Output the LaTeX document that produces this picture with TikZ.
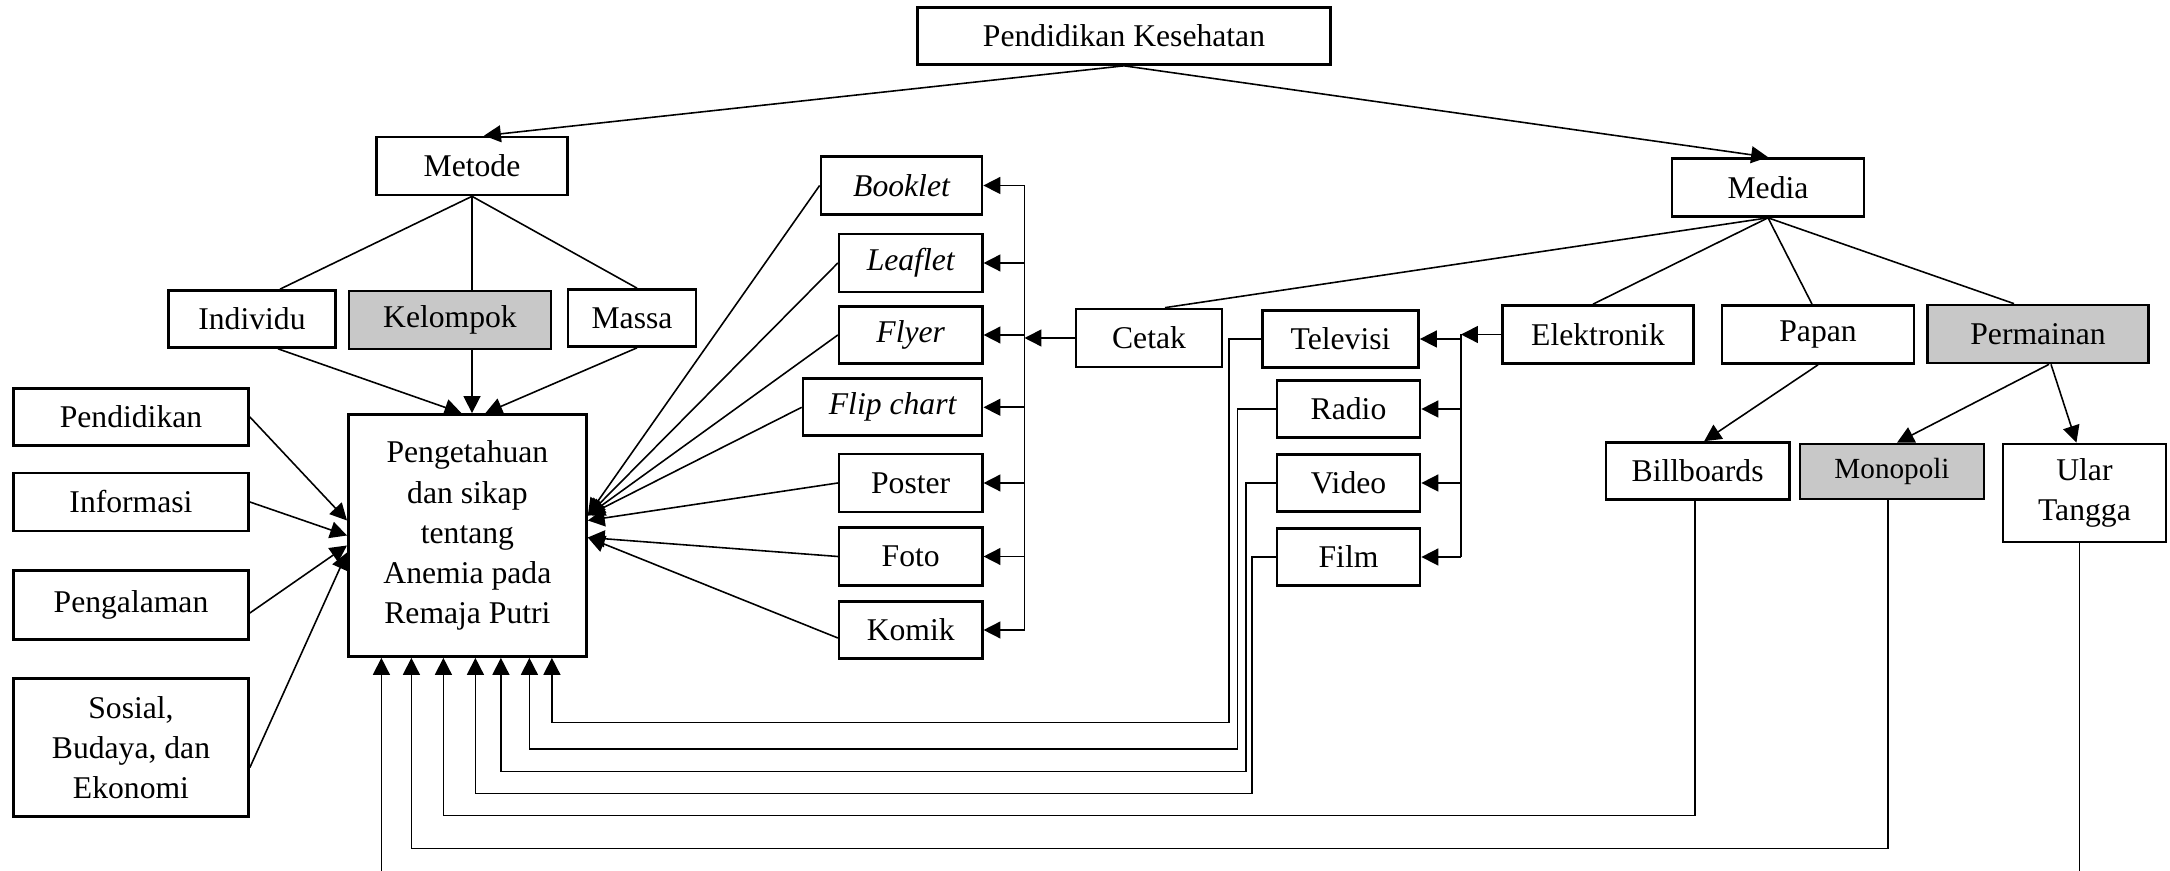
\documentclass[tikz,border=0pt]{standalone}
\usepackage{fontspec}
\setmainfont{Liberation Serif}
\usetikzlibrary{calc,arrows.meta}
\definecolor{abuabu}{RGB}{200,200,200}

\begin{document}
\begin{tikzpicture}[x=0.01cm,y=-0.01cm,line width=0.45pt,>={Triangle[length=4.8pt,width=4.8pt]},
    kotak/.style={draw,line width=0.75pt,inner sep=0pt,align=center,font=\fontsize{9}{11.4}\selectfont},
    abu/.style={kotak,fill=abuabu}]
    \useasboundingbox (0,0) rectangle (2170,871);
    \clip (0,0) rectangle (2170,871);

    \node[kotak,minimum width=4.13cm,minimum height=0.57cm] (pk) at (1124,36) {Pendidikan Kesehatan};
    \node[kotak,minimum width=1.91cm,minimum height=0.58cm] (metode) at (472,166) {Metode};
    \node[kotak,minimum width=1.92cm,minimum height=0.58cm] (media) at (1768,187.5) {Media};

    \node[kotak,minimum width=1.67cm,minimum height=0.57cm] (individu) at (252,319) {Individu};
    \node[abu,minimum width=2.02cm,minimum height=0.58cm] (kelompok) at (450,320) {Kelompok};
    \node[kotak,minimum width=1.28cm,minimum height=0.57cm] (massa) at (632,318) {Massa};

    \node[kotak,minimum width=2.35cm,minimum height=0.57cm] (pendidikan) at (131,417) {Pendidikan};
    \node[kotak,minimum width=2.35cm,minimum height=0.58cm] (informasi) at (131,502) {Informasi};
    \node[kotak,minimum width=2.35cm,minimum height=0.69cm] (pengalaman) at (131,605) {Pengalaman};
    \node[kotak,minimum width=2.35cm,minimum height=1.38cm] (sosial) at (131,747.5) {Sosial,\\Budaya, dan\\Ekonomi};
    \node[kotak,minimum width=2.38cm,minimum height=2.42cm] (pengetahuan) at (467.4,535.5)
        {Pengetahuan\\dan sikap\\tentang\\Anemia pada\\Remaja Putri};

    \node[kotak,minimum width=1.61cm,minimum height=0.58cm] (booklet) at (901.5,185.5) {\itshape Booklet};
    \node[kotak,minimum width=1.43cm,minimum height=0.58cm] (leaflet) at (910.7,263) {\itshape Leaflet};
    \node[kotak,minimum width=1.43cm,minimum height=0.57cm] (flyer) at (910.7,335) {\itshape Flyer};
    \node[kotak,minimum width=1.79cm,minimum height=0.57cm] (flipchart) at (892.6,407.3) {\itshape Flip chart};
    \node[kotak,minimum width=1.43cm,minimum height=0.58cm] (poster) at (910.7,483) {Poster};
    \node[kotak,minimum width=1.43cm,minimum height=0.58cm] (foto) at (910.7,556.5) {Foto};
    \node[kotak,minimum width=1.43cm,minimum height=0.57cm] (komik) at (910.7,630) {Komik};

    \node[kotak,minimum width=1.46cm,minimum height=0.58cm] (cetak) at (1149,338) {Cetak};
    \node[kotak,minimum width=1.56cm,minimum height=0.57cm] (televisi) at (1340.5,339) {Televisi};
    \node[kotak,minimum width=1.43cm,minimum height=0.57cm] (radio) at (1348.5,409) {Radio};
    \node[kotak,minimum width=1.43cm,minimum height=0.57cm] (video) at (1348.5,483) {Video};
    \node[kotak,minimum width=1.43cm,minimum height=0.57cm] (film) at (1348.5,557) {Film};

    \node[kotak,minimum width=1.91cm,minimum height=0.58cm] (elektronik) at (1598,334.5) {Elektronik};
    \node[kotak,minimum width=1.92cm,minimum height=0.58cm] (papan) at (1818,334.5) {Papan};
    \node[abu,minimum width=2.21cm,minimum height=0.58cm] (permainan) at (2038,334) {Permainan};
    \node[kotak,minimum width=1.83cm,minimum height=0.57cm] (billboards) at (1697.6,471) {Billboards};
    \node[abu,minimum width=1.84cm,minimum height=0.55cm,font=\fontsize{8.3}{11}\selectfont] (monopoli) at (1892,471.5) {Monopoli};
    \node[kotak,minimum width=1.63cm,minimum height=0.98cm] (ular) at (2084.4,493) {Ular\\Tangga};

    \coordinate (cbus) at (1024.5,0);
    \coordinate (ebus) at (1461,0);

    \draw[->] (pk.south) -- ($(metode.north)+(12,0)$);
    \draw[->] (pk.south) -- (media.north);

    \draw (metode.south) -- ($(individu.north)+(28,0)$);
    \draw (metode.south) -- (kelompok.north -| metode);
    \draw (metode.south) -- ($(massa.north)+(5,0)$);
    \draw[->] ($(individu.south)+(26,0)$) -- ($(pengetahuan.north)+(-6,0)$);
    \draw[->] (kelompok.south -| metode) -- (pengetahuan.north -| metode);
    \draw[->] ($(massa.south)+(5,0)$) -- ($(pengetahuan.north)+(18,0)$);

    \draw[->] (pendidikan.east) -- ($(pengetahuan.west)+(0,-15)$);
    \draw[->] (informasi.east) -- (pengetahuan.west);
    \draw[->] ($(pengalaman.east)+(0,8)$) -- ($(pengetahuan.west)+(0,10)$);
    \draw[->] ($(sosial.east)+(0,20)$) -- ($(pengetahuan.west)+(0,17)$);

    \draw (booklet -| cbus) -- (komik -| cbus);
    \draw[->] (cetak.west) -- (cetak.west -| cbus);
    \foreach \n in {booklet,leaflet,flyer,flipchart,poster,foto,komik}
        \draw[->] (\n -| cbus) -- (\n.east);

    \draw[->] (booklet.west) -- ($(pengetahuan.east)+(0,-20)$);
    \draw[->] (leaflet.west) -- ($(pengetahuan.east)+(0,-20)$);
    \draw[->] (flyer.west) -- ($(pengetahuan.east)+(0,-20)$);
    \draw[->] (flipchart.west) -- ($(pengetahuan.east)+(0,-20)$);
    \draw[->] (poster.west) -- ($(pengetahuan.east)+(0,-15)$);
    \draw[->] (foto.west) -- ($(pengetahuan.east)+(0,2)$);
    \draw[->] ($(komik.west)+(0,8)$) -- ($(pengetahuan.east)+(0,2)$);

    \draw (media.south) -- ($(cetak.north)+(16,0)$);
    \draw (media.south) -- ($(elektronik.north)+(-5,0)$);
    \draw (media.south) -- ($(papan.north)+(-6,0)$);
    \draw (media.south) -- ($(permainan.north)+(-24,0)$);

    \draw (elektronik.west -| ebus) -- (film -| ebus);
    \draw[->] (elektronik.west) -- (elektronik.west -| ebus);
    \foreach \n in {televisi,radio,video,film}
        \draw[->] (\n -| ebus) -- (\n.east);

    \draw[->] (papan.south) -- ($(billboards.north)+(6.6,0)$);
    \draw[->] ($(permainan.south)+(11,0)$) -- ($(monopoli.north)+(5,0)$);
    \draw[->] ($(permainan.south)+(13,0)$) -- ($(ular.north)+(-8,0)$);

    \draw[->] (televisi.west) -| (1228.7,722.7) -| ($(pengetahuan.south)+(84.5,0)$);
    \draw[->] (radio.west) -| (1237.3,749) -| ($(pengetahuan.south)+(62,0)$);
    \draw[->] (video.west) -| (1246,771.7) -| ($(pengetahuan.south)+(33.5,0)$);
    \draw[->] (film.west) -| (1252,793.3) -| ($(pengetahuan.south)+(8,0)$);
    \draw[->] ($(billboards.south)+(-2.5,0)$) -- ++(0,314.8) -| ($(pengetahuan.south)+(-24,0)$);
    \draw[->] ($(monopoli.south)+(-4,0)$) -- ++(0,348) -| ($(pengetahuan.south)+(-56,0)$);
    \draw[->] ($(ular.south)+(-5,0)$) -- ++(0,360) -| ($(pengetahuan.south)+(-86,0)$);
\end{tikzpicture}
\end{document}
